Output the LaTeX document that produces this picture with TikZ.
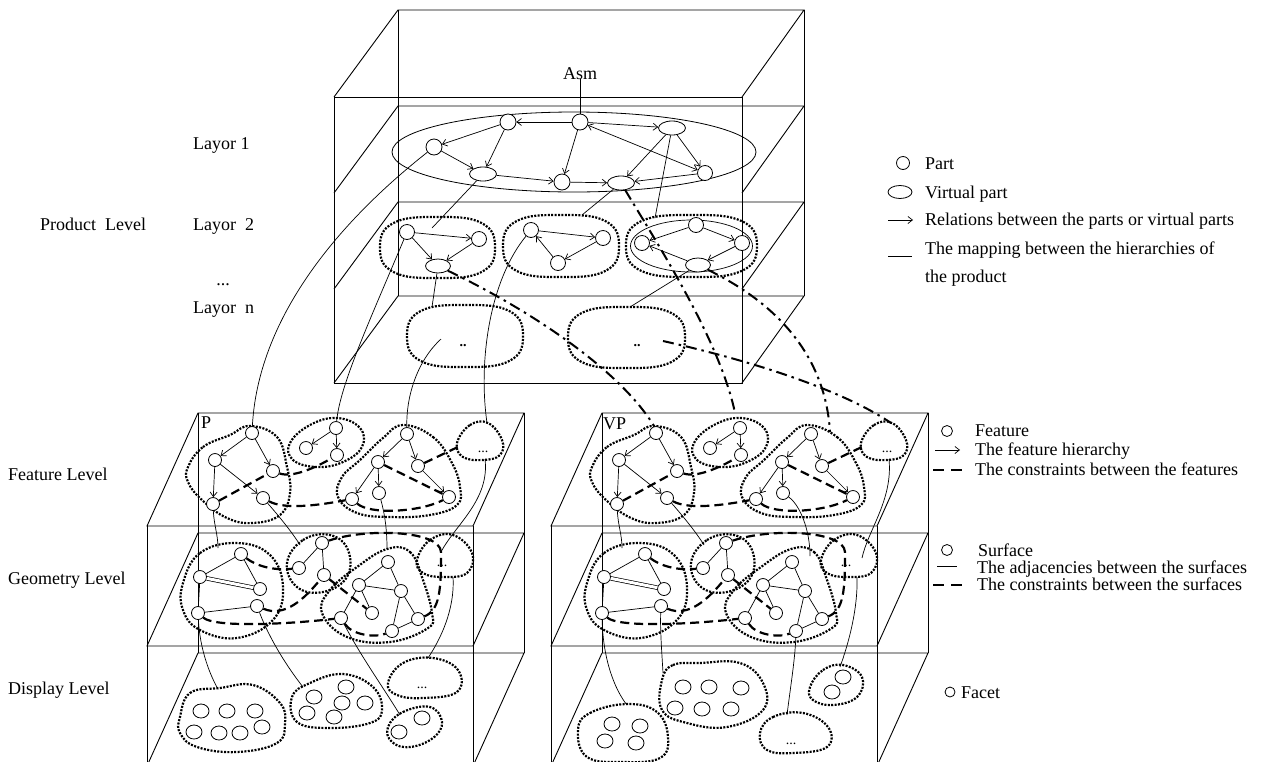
\documentclass[tikz,border=0pt]{standalone}
\usepackage{fontspec}
\setmainfont{Liberation Serif}
\usetikzlibrary{arrows.meta,shapes.geometric}
\tikzset{
  boxl/.style={line width=0.9pt},
  pn/.style={circle,draw,fill=white,line width=0.8pt,inner sep=0pt,minimum size=16pt},
  vpn/.style={ellipse,draw,fill=white,line width=0.8pt,inner sep=0pt,minimum width=27pt,minimum height=14pt},
  fn/.style={circle,draw,fill=white,line width=0.8pt,inner sep=0pt,minimum size=13pt},
  dn/.style={ellipse,draw,fill=white,line width=0.8pt,inner sep=0pt,minimum width=16pt,minimum height=14pt},
  blob/.style={line width=2.2pt,dash pattern=on 2pt off 1.4pt},
  rel/.style={line width=0.7pt,-{Straight Barb[length=4.5pt,width=7pt]}},
  brel/.style={line width=0.7pt,{Straight Barb[length=4.5pt,width=7pt]}-{Straight Barb[length=4.5pt,width=7pt]}},
  mapl/.style={line width=0.7pt},
  cons/.style={line width=2.2pt,dash pattern=on 9pt off 5pt},
  ddot/.style={line width=2pt,dash pattern=on 11pt off 5pt on 2.5pt off 5pt},
  txt/.style={font=\fontsize{18}{20}\selectfont,inner sep=0pt,text height=12pt,text depth=0pt},
  small/.style={font=\fontsize{14}{16}\selectfont,inner sep=0pt},
}
\newcommand\sblob[4]{\draw[blob] plot[smooth cycle,tension=0.75] coordinates {({#1+#3},#2) ({#1+0.77*#3},{#2+0.8*#4}) (#1,{#2+#4}) ({#1-0.77*#3},{#2+0.8*#4}) ({#1-#3},#2) ({#1-0.77*#3},{#2-0.8*#4}) (#1,{#2-#4}) ({#1+0.77*#3},{#2-0.8*#4})};}
\newcommand\FeatLevel[1]{%
  \draw[blob] plot[smooth cycle,tension=0.7] coordinates {(188,467) (203,447) (230,435) (250,426) (277,437) (287,467) (290,493) (280,515) (253,523) (227,518) (202,500) (188,482)};
  \draw[blob] plot[smooth cycle,tension=0.7] coordinates {(290,443) (310,425) (337,418) (360,428) (362,447) (343,462) (317,467) (293,460)};
  \draw[blob] plot[smooth cycle,tension=0.7] coordinates {(403,425) (433,437) (452,463) (460,487) (457,505) (430,515) (390,517) (357,513) (338,497) (342,477) (360,460) (383,438)};
  \draw[blob] plot[smooth cycle,tension=0.7] coordinates {(457,443) (470,425) (488,423) (502,440) (500,455) (483,460) (463,457)};
  \coordinate (#1P1n) at (250,426);
  \coordinate (#1P2n) at (337,418);
  \coordinate (#1P4n) at (487,423);
  \coordinate (#1P4w) at (460,446);
  \coordinate (#1P4s) at (485,459);
  \node[small,anchor=base] (#1P4t) at (483,452) {...};
  \node[fn] (#1p1a) at (252,433) {};
  \node[fn] (#1p1b) at (215,460) {};
  \node[fn] (#1p1c) at (273,471) {};
  \node[fn] (#1p1d) at (213,504) {};
  \node[fn] (#1p1e) at (263,498) {};
  \node[fn] (#1p2a) at (336,428) {};
  \node[fn] (#1p2b) at (306,448) {};
  \node[fn] (#1p2c) at (337,455) {};
  \node[fn] (#1p3a) at (407,434) {};
  \node[fn] (#1p3b) at (378,462) {};
  \node[fn] (#1p3c) at (418,466) {};
  \node[fn] (#1p3d) at (352,499) {};
  \node[fn] (#1p3e) at (379,493) {};
  \node[fn] (#1p3f) at (449,497) {};
  \draw[rel] (#1p1a) -- (#1p1b);
  \draw[rel] (#1p1a) -- (#1p1c);
  \draw[rel] (#1p1b) -- (#1p1d);
  \draw[rel] (#1p1b) -- (#1p1e);
  \draw[rel] (#1p2a) -- (#1p2b);
  \draw[rel] (#1p2a) -- (#1p2c);
  \draw[rel] (#1p3a) -- (#1p3b);
  \draw[rel] (#1p3a) -- (#1p3c);
  \draw[rel] (#1p3b) -- (#1p3d);
  \draw[rel] (#1p3b) -- (#1p3e);
  \draw[rel] (#1p3c) -- (#1p3f);
  \draw[cons] (#1p1d) -- (#1p1c);
  \draw[cons] (#1p1c) .. controls (292,478) and (315,468) .. (#1p2c);
  \draw[cons] (#1p1e) .. controls (285,510) and (320,505) .. (#1p3d);
  \draw[cons] (#1p3b) -- (#1p3f);
  \draw[cons] (#1p3d) .. controls (370,515) and (420,512) .. (#1p3f);
  \draw[cons] (#1p3c) -- (#1P4w);
}
\newcommand\GeomLevel[1]{%
  \draw[blob] plot[smooth cycle,tension=0.7] coordinates {(183,583) (200,553) (237,543) (270,555) (283,587) (273,620) (237,638) (200,630) (183,610)};
  \draw[blob] plot[smooth cycle,tension=0.7] coordinates {(287,563) (303,540) (330,535) (348,550) (347,577) (323,592) (297,587)};
  \draw[blob] plot[smooth cycle,tension=0.7] coordinates {(387,549) (410,552) (423,580) (432,613) (428,628) (390,642) (347,637) (322,613) (330,590) (357,567)};
  \draw[blob] plot[smooth cycle,tension=0.7] coordinates {(417,560) (430,540) (453,535) (472,553) (467,573) (443,577) (423,573)};
  \coordinate (#1G1n) at (218,548);
  \coordinate (#1G2w) at (300,545);
  \coordinate (#1G3n) at (387,549);
  \coordinate (#1G4in) at (441,552);
  \coordinate (#1G4s) at (453,577);
  \node[small,anchor=base] (#1G4t) at (442,566) {...};
  \node[fn] (#1ga) at (241,554) {};
  \node[fn] (#1gb) at (200,577) {};
  \node[fn] (#1gc) at (260,589) {};
  \node[fn] (#1gd) at (198,613) {};
  \node[fn] (#1ge) at (257,606) {};
  \node[fn] (#1gx1) at (322,543) {};
  \node[fn] (#1gx2) at (299,568) {};
  \node[fn] (#1gx3) at (324,575) {};
  \node[fn] (#1gy1) at (388,562) {};
  \node[fn] (#1gy2) at (359,585) {};
  \node[fn] (#1gy3) at (401,591) {};
  \node[fn] (#1gy4) at (372,613) {};
  \node[fn] (#1gy5) at (341,618) {};
  \node[fn] (#1gy6) at (418,619) {};
  \node[fn] (#1gy7) at (392,631) {};
  \draw[mapl] (#1ga) -- (#1gb);
  \draw[mapl] (#1ga) -- (#1gc);
  \draw[mapl,double distance=3pt] (#1gb) -- (#1gc);
  \draw[mapl] (#1gb) -- (#1gd);
  \draw[mapl] (#1gd) -- (#1ge);
  \draw[mapl] (#1gx1) -- (#1gx2);
  \draw[mapl] (#1gx1) -- (#1gx3);
  \draw[mapl] (#1gy1) -- (#1gy2);
  \draw[mapl] (#1gy1) -- (#1gy3);
  \draw[mapl] (#1gy2) -- (#1gy3);
  \draw[mapl] (#1gy2) -- (#1gy4);
  \draw[mapl] (#1gy2) -- (#1gy5);
  \draw[mapl] (#1gy3) -- (#1gy6);
  \draw[mapl] (#1gy3) -- (#1gy7);
  \draw[mapl] (#1gy6) -- (#1gy7);
  \draw[cons] (#1ga) .. controls (255,565) and (272,571) .. (#1gx2);
  \draw[cons] (#1gd) .. controls (215,628) and (290,624) .. (#1gy5);
  \draw[cons] (#1ge) .. controls (285,618) and (305,598) .. (#1gx3);
  \draw[cons] (#1gx3) -- (#1gy4);
  \draw[cons] (#1gx1) .. controls (365,528) and (440,530) .. (#1G4in) .. controls (441,590) and (440,610) .. (#1gy6);
  \draw[cons] (#1gy5) .. controls (352,635) and (375,638) .. (#1gy7);
}
\begin{document}
\begin{tikzpicture}[x=1pt,y=-1pt]
\useasboundingbox (0,0) rectangle (1268,761);
\clip (0,0) rectangle (1268,761);
% ---------- top box
\draw[boxl] (334,97) rectangle (742,383);
\draw[boxl] (398,10) -- (398,296);
\draw[boxl] (804,10) -- (804,296);
\foreach \yy in {97,193,289,383} {
  \draw[boxl] (334,\yy) -- (398,{\yy-87}) -- (804,{\yy-87}) -- (742,\yy);
}
% ---------- lower boxes
\foreach \dx in {0,404} {
  \begin{scope}[xshift=\dx pt]
  \foreach \yy in {413,533,653} {
    \draw[boxl] (147,{\yy+113}) -- (198,\yy) -- (524,\yy) -- (473,{\yy+113}) -- cycle;
  }
  \draw[boxl] (147,526) -- (147,780) (473,526) -- (473,780) (198,413) -- (198,653) (524,413) -- (524,653);
  \end{scope}
}
% ---------- level labels
\node[txt,anchor=west] (l1) at (193,143) {Layor 1};
\node[txt,anchor=west] (pl) at (40,224) {Product\ \ Level};
\node[txt,anchor=west] (l2) at (193,224) {Layor\ \ 2};
\node[txt,anchor=base] (ldots) at (223,285) {...};
\node[txt,anchor=west] (ln) at (193,307) {Layor\ \ n};
\node[txt,anchor=west] (fl) at (8,474) {Feature Level};
\node[txt,anchor=west] (gl) at (8,578) {Geometry Level};
\node[txt,anchor=west] (dl) at (8,688) {Display Level};
\node[txt,anchor=west] (plab) at (201,422) {P};
\node[txt,anchor=west] (vplab) at (603,423) {VP};
% ---------- layer 1
\draw[line width=0.8pt] (574,152) ellipse [x radius=182, y radius=40];
\node[txt] (asm) at (580,73) {Asm};
\node[pn] (A) at (580,122) {};
\node[pn] (B) at (508,122) {};
\node[pn] (C) at (434,147) {};
\node[vpn] (D) at (483,174) {};
\node[pn] (E) at (562,182) {};
\node[vpn] (F) at (621,183) {};
\node[vpn] (G) at (672,128) {};
\node[pn,minimum size=15pt] (H) at (705,173) {};
\draw[mapl] (asm) -- (A);
\draw[rel] (A) -- (B);
\draw[rel] (B) -- (C);
\draw[rel] (B) -- (D);
\draw[rel] (C) -- (D);
\draw[rel] (D) -- (E);
\draw[rel] (A) -- (E);
\draw[rel] (E) -- (F);
\draw[rel] (A) -- (G);
\draw[brel] (A) -- (H);
\draw[rel] (G) -- (H);
\draw[rel] (G) -- (F);
\draw[rel] (H) -- (F);
% ---------- layer 2
\sblob{437.5}{247.5}{57.5}{30.5}
\sblob{561}{246}{58}{31}
\sblob{691.5}{246}{65.5}{31}
\draw[line width=0.7pt] (691.5,246) ellipse [x radius=61, y radius=26];
\node[pn,minimum size=15pt] (g1a) at (407,232) {};
\node[pn,minimum size=15pt] (g1b) at (479,239) {};
\node[vpn,minimum width=25pt] (g1c) at (438,266) {};
\node[pn,minimum size=15pt] (g2a) at (531,230) {};
\node[pn,minimum size=15pt] (g2b) at (603,238) {};
\node[pn,minimum size=15pt] (g2c) at (558,263) {};
\node[pn,minimum size=15pt] (g3a) at (696,225) {};
\node[pn,minimum size=15pt] (g3b) at (642,243) {};
\node[pn,minimum size=15pt] (g3c) at (742,243) {};
\node[vpn,minimum width=25pt] (g3d) at (698,265) {};
\draw[rel] (g1a) -- (g1b);
\draw[rel] (g1a) -- (g1c);
\draw[rel] (g1b) -- (g1c);
\draw[rel] (g2a) -- (g2b);
\draw[rel] (g2b) -- (g2c);
\draw[rel] (g2c) -- (g2a);
\draw[rel] (g3a) -- (g3b);
\draw[rel] (g3a) -- (g3c);
\draw[rel] (g3d) -- (g3b);
\draw[rel] (g3c) -- (g3d);
% ---------- layer n
\sblob{465}{336}{58}{31}
\sblob{626.5}{337.5}{58.5}{30.5}
\node[small,anchor=base] (n1t) at (463,346) {\textbf{..}};
\node[small,anchor=base] (n2t) at (637,346) {\textbf{..}};
\coordinate (g1in) at (432,228);
\coordinate (g2top) at (582,215);
\coordinate (g3top) at (655,218);
\coordinate (n1top) at (432,307);
\coordinate (n2top) at (630,307);
\coordinate (n1s) at (441,339);
\coordinate (n2s) at (663,341);
\draw[mapl] (D) -- (g1in);
\draw[mapl] (F) -- (g2top);
\draw[mapl] (G) -- (g3top);
\draw[mapl] (g1c) -- (n1top);
\draw[mapl] (g3d) -- (n2top);
% ---------- lower levels
\FeatLevel{P}
\GeomLevel{P}
\begin{scope}[xshift=404pt]
\FeatLevel{VP}
\GeomLevel{VP}
\end{scope}
% ---------- product -> feature mappings
\draw[mapl] (C) .. controls (335,225) and (258,320) .. (Pp1a);
\draw[mapl] (g1a) .. controls (370,320) and (340,385) .. (Pp2a);
\draw[mapl] (n1s) .. controls (418,360) and (406,395) .. (Pp3a);
\draw[mapl] (g2a) .. controls (490,280) and (478,360) .. (PP4n);
\coordinate (dd2e) at (735,413);
\coordinate (dd3e) at (830,432);
\draw[ddot] (g1c) .. controls (530,310) and (620,370) .. (VPP1n);
\draw[ddot] (F) .. controls (655,240) and (720,340) .. (dd2e);
\draw[ddot] (g3d) .. controls (770,300) and (825,350) .. (dd3e);
\draw[ddot] (n2s) .. controls (770,365) and (850,395) .. (VPP4n);
% ---------- feature -> geometry mappings
\draw[mapl] (Pp1d) .. controls (214,525) and (218,535) .. (PG1n);
\draw[mapl] (Pp1e) .. controls (278,515) and (292,532) .. (PG2w);
\draw[mapl] (Pp3e) .. controls (385,515) and (387,530) .. (PG3n);
\draw[mapl] (PP4s) .. controls (490,500) and (455,525) .. (PG4in);
\coordinate (vg3e) at (810,556);
\coordinate (vg4e) at (862,558);
\draw[mapl] (VPp1d) .. controls (618,525) and (622,535) .. (VPG1n);
\draw[mapl] (VPp1e) .. controls (682,515) and (696,532) .. (VPG2w);
\draw[mapl] (VPp3e) .. controls (800,505) and (810,530) .. (vg3e);
\draw[mapl] (VPP4s) .. controls (893,500) and (868,530) .. (vg4e);
% ---------- display level P
\draw[blob] plot[smooth cycle,tension=0.7] coordinates {(180,717) (190,693) (220,688) (253,685) (280,703) (285,723) (277,743) (237,752) (197,747) (180,733)};
\draw[blob] plot[smooth cycle,tension=0.7] coordinates {(292,697) (310,683) (343,674) (373,687) (382,710) (370,723) (330,728) (297,722)};
\draw[blob] plot[smooth cycle,tension=0.7] coordinates {(388,727) (403,712) (430,707) (442,722) (433,738) (410,747) (392,742)};
\draw[blob] plot[smooth cycle,tension=0.7] coordinates {(388,683) (403,663) (433,658) (458,670) (457,692) (423,698) (397,695)};
\node[small,anchor=base] (pd4t) at (422,688) {...};
\node[dn] (pd1a) at (201,711) {};
\node[dn] (pd1b) at (227,711) {};
\node[dn] (pd1c) at (255,711) {};
\node[dn] (pd1d) at (194,732) {};
\node[dn] (pd1e) at (219,733) {};
\node[dn] (pd1f) at (240,733) {};
\node[dn] (pd1g) at (262,727) {};
\node[dn] (pd2a) at (314,697) {};
\node[dn] (pd2b) at (346,687) {};
\node[dn] (pd2c) at (342,703) {};
\node[dn] (pd2d) at (365,703) {};
\node[dn] (pd2e) at (307,713) {};
\node[dn] (pd2f) at (334,717) {};
\node[dn] (pd3a) at (422,718) {};
\node[dn] (pd3b) at (399,732) {};
\coordinate (pD1n) at (218,689);
\coordinate (pD2n) at (303,687);
\coordinate (pD3n) at (400,715);
\coordinate (pD4n) at (428,658);
\draw[mapl] (Pgd) .. controls (200,650) and (210,675) .. (pD1n);
\draw[mapl] (Pge) .. controls (270,640) and (288,668) .. (pD2n);
\draw[mapl] (Pgy5) .. controls (360,655) and (385,690) .. (pD3n);
\draw[mapl] (PG4s) .. controls (455,610) and (440,640) .. (pD4n);
% ---------- display level VP
\draw[blob] plot[smooth cycle,tension=0.7] coordinates {(578,730) (590,713) (627,704) (657,712) (668,737) (660,758) (623,762) (587,757)};
\draw[blob] plot[smooth cycle,tension=0.7] coordinates {(662,680) (673,665) (700,663) (740,663) (763,683) (763,710) (727,727) (687,723) (662,710)};
\draw[blob] plot[smooth cycle,tension=0.7] coordinates {(760,733) (773,717) (803,713) (828,727) (827,747) (793,753) (767,750)};
\draw[blob] plot[smooth cycle,tension=0.7] coordinates {(810,687) (823,670) (843,665) (862,677) (857,697) (833,705) (813,700)};
\node[small,anchor=base] (vd3t) at (791,744) {...};
\node[dn] (vd1a) at (612,724) {};
\node[dn] (vd1b) at (640,726) {};
\node[dn] (vd1c) at (605,741) {};
\node[dn] (vd1d) at (636,743) {};
\node[dn] (vd2a) at (683,687) {};
\node[dn] (vd2b) at (709,687) {};
\node[dn] (vd2c) at (741,688) {};
\node[dn] (vd2d) at (675,708) {};
\node[dn] (vd2e) at (702,709) {};
\node[dn] (vd2f) at (731,709) {};
\node[dn] (vd4a) at (843,677) {};
\node[dn] (vd4b) at (832,692) {};
\coordinate (vD1n) at (627,705);
\coordinate (vD2n) at (663,673);
\coordinate (vD3n) at (787,715);
\coordinate (vD4n) at (840,667);
\draw[mapl] (VPgd) .. controls (603,660) and (615,690) .. (vD1n);
\draw[mapl] (VPge) .. controls (660,630) and (662,655) .. (vD2n);
\draw[mapl] (VPgy7) .. controls (795,660) and (790,690) .. (vD3n);
\draw[mapl] (VPG4s) .. controls (858,610) and (848,645) .. (vD4n);
% ---------- legends
\node[pn,minimum size=13pt] (lgpart) at (903,163) {};
\node[txt,anchor=west] (lgpartt) at (925,163) {Part};
\node[vpn,minimum width=24pt,minimum height=13pt] (lgvp) at (900,192) {};
\node[txt,anchor=west] (lgvpt) at (925,192) {Virtual part};
\coordinate (lgr1) at (888,220);
\coordinate (lgr2) at (913,220);
\draw[rel] (lgr1) -- (lgr2);
\node[txt,anchor=west] (lgrt) at (925,219) {Relations between the parts or virtual parts};
\coordinate (lgm1) at (888,256);
\coordinate (lgm2) at (912,256);
\draw[mapl] (lgm1) -- (lgm2);
\node[txt,anchor=west] (lgmt1) at (925,248) {The mapping between the hierarchies of};
\node[txt,anchor=west] (lgmt2) at (925,276) {the product};
\node[fn,minimum size=11pt] (lgf) at (947,431) {};
\node[txt,anchor=west] (lgft) at (975,430) {Feature};
\coordinate (lgh1) at (935,450);
\coordinate (lgh2) at (960,450);
\draw[rel] (lgh1) -- (lgh2);
\node[txt,anchor=west] (lght) at (975,449) {The feature hierarchy};
\coordinate (lgc1) at (933,470);
\coordinate (lgc2) at (964,470);
\draw[line width=2.2pt,dash pattern=on 11pt off 7pt] (lgc1) -- (lgc2);
\node[txt,anchor=west] (lgct) at (975,469) {The constraints between the features};
\node[fn,minimum size=11pt] (lgs) at (947,550) {};
\node[txt,anchor=west] (lgst) at (978,550) {Surface};
\coordinate (lga1) at (937,566);
\coordinate (lga2) at (957,566);
\draw[mapl] (lga1) -- (lga2);
\node[txt,anchor=west] (lgat) at (977,567) {The adjacencies between the surfaces};
\coordinate (lgd1) at (933,585);
\coordinate (lgd2) at (964,585);
\draw[line width=2.2pt,dash pattern=on 11pt off 7pt] (lgd1) -- (lgd2);
\node[txt,anchor=west] (lgdt) at (977,584) {The constraints between the surfaces};
\node[fn,minimum size=10pt] (lgfa) at (950,692) {};
\node[txt,anchor=west] (lgfat) at (961,692) {Facet};
\end{tikzpicture}
\end{document}
